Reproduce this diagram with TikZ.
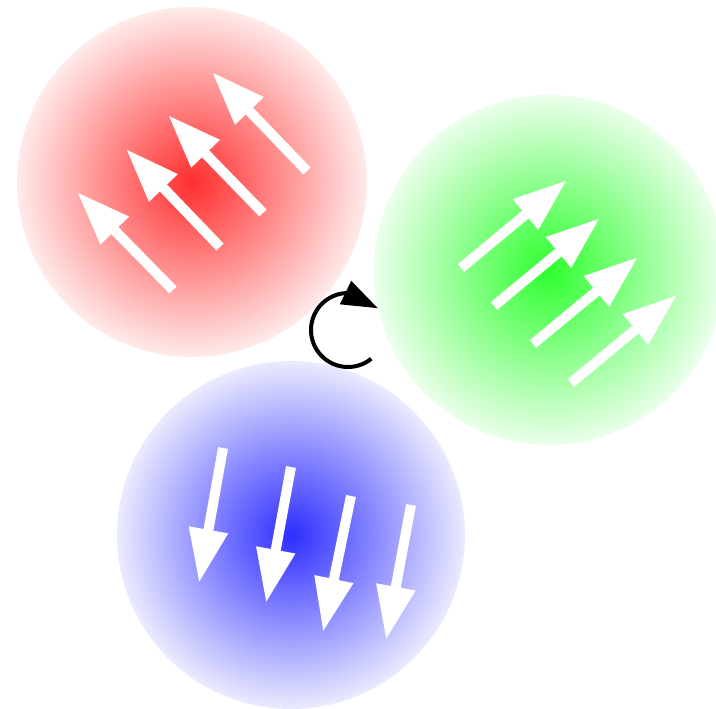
\documentclass[tikz,border=0pt]{standalone}
\usetikzlibrary{arrows.meta,bending}
\tikzset{
  spin/.style={draw=white, line width=10pt, -{Triangle[length=54pt,width=37pt]}},
  turn/.style={draw=black, line width=4pt, -{Triangle[length=36pt,width=25pt]}},
  ball/.style={inner color=#1!82!white, outer color=#1!8!white},
}
\begin{document}
\begin{tikzpicture}[x=1pt,y=-1pt]
\useasboundingbox (0,0) rectangle (716,709);
\clip (0,0) rectangle (716,709);
% spheres
\shade[ball=red] (192,182) circle (175);
\shade[ball=green] (549,270) circle (175);
\shade[ball=blue] (291,535) circle (174);
% red spins
\coordinate (r1a) at (173,290); \coordinate (r1b) at (77,192);
\coordinate (r2a) at (220,247); \coordinate (r2b) at (126,149);
\coordinate (r3a) at (263,213); \coordinate (r3b) at (168,115);
\coordinate (r4a) at (307,171); \coordinate (r4b) at (212,72);
\draw[spin] (r1a) -- (r1b);
\draw[spin] (r2a) -- (r2b);
\draw[spin] (r3a) -- (r3b);
\draw[spin] (r4a) -- (r4b);
% green spins
\coordinate (g1a) at (461,268); \coordinate (g1b) at (567,180);
\coordinate (g2a) at (494,306); \coordinate (g2b) at (600,218);
\coordinate (g3a) at (533,344); \coordinate (g3b) at (638,257);
\coordinate (g4a) at (571,383); \coordinate (g4b) at (677,295);
\draw[spin] (g1a) -- (g1b);
\draw[spin] (g2a) -- (g2b);
\draw[spin] (g3a) -- (g3b);
\draw[spin] (g4a) -- (g4b);
% blue spins
\coordinate (b1a) at (223,448); \coordinate (b1b) at (199,583);
\coordinate (b2a) at (291,467); \coordinate (b2b) at (266,603);
\coordinate (b3a) at (351,496); \coordinate (b3b) at (323,632);
\coordinate (b4a) at (411,505); \coordinate (b4b) at (386,640);
\draw[spin] (b1a) -- (b1b);
\draw[spin] (b2a) -- (b2b);
\draw[spin] (b3a) -- (b3b);
\draw[spin] (b4a) -- (b4b);
% rotation arrow
\coordinate (rc) at (348,330);
\draw[turn] ([shift={(51:37)}]rc) arc[start angle=51, end angle=324, radius=37];
\end{tikzpicture}
\end{document}
